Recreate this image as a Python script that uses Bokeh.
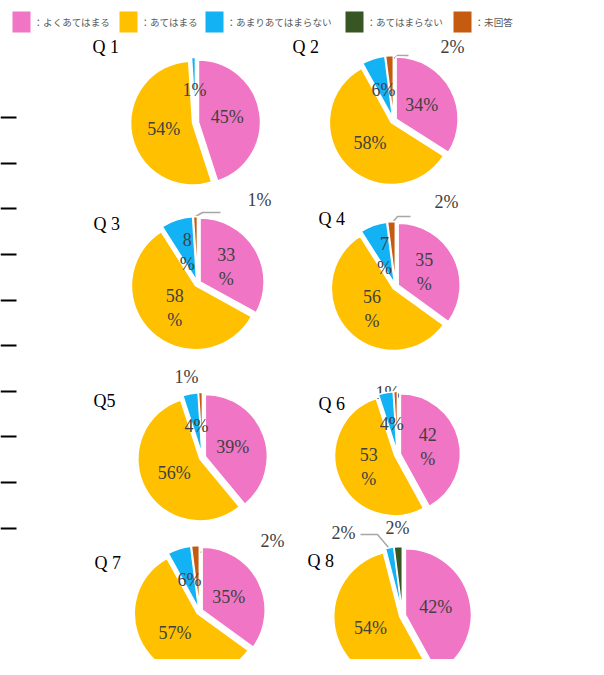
import numpy as np
from bokeh.plotting import figure
from bokeh.models import Range1d, ColumnDataSource
from bokeh.core.properties import value
from bokeh.embed import file_html
from bokeh.resources import INLINE

# ---------------- data ----------------
categories = ["よくあてはまる", "あてはまる", "あまりあてはまらない", "あてはまらない", "未回答"]
colors = ["#F075C5", "#FFC000", "#12B2F4", "#375623", "#C55A11"]
questions = ["Q 1", "Q 2", "Q 3", "Q 4", "Q5", "Q 6", "Q 7", "Q 8"]
q1 = [45, 54, 1, 0, 0]
q2 = [34, 58, 6, 0, 2]
q3 = [33, 58, 8, 0, 1]
q4 = [35, 56, 7, 0, 2]
q5 = [39, 56, 4, 0, 1]
q6 = [42, 53, 4, 0, 1]
q7 = [35, 57, 6, 0, 2]
q8 = [42, 54, 2, 2, 0]
series = [q1, q2, q3, q4, q5, q6, q7, q8]

# ---------------- layout (reference pixel coords) ----------------
W, H = 588, 659
centers = [(195, 122), (393, 120), (197, 283), (395, 286),
           (202, 457), (397, 454), (199, 611), (402, 615)]
radii = [62, 62, 64, 62, 62, 60, 63, 66]
title_pos = [(92, 46), (292, 46), (93, 223), (318, 218),
             (93, 400), (318, 403), (94, 562), (307, 560)]
wrap_min = [None, None, 0, 0, None, 10, None, None]
outside = {
    1: [(4, (452, 46), [(393, 58), (397, 55), (408, 55)])],
    2: [(4, (259, 199), [(195, 216), (202, 212), (220, 212)])],
    3: [(4, (446, 201), [(392, 222), (397, 216), (410, 216)])],
    4: [(4, (186, 376), None)],
    5: [(4, (387, 392), None)],
    6: [(4, (272, 540), [(200, 552), (207, 549), (218, 549)])],
    7: [(2, (343, 532), [(360, 534), (377, 534), (388, 547)]),
        (3, (397, 527), None)],
}
legend_x = [12, 119, 205, 345, 453]
artifact_y = [117, 163, 208, 254, 300, 345, 391, 436, 482, 528]


def X(px):
    return px


def Y(py):
    return H - py


p = figure(width=W, height=H, x_range=Range1d(0, W), y_range=Range1d(0, H),
           x_axis_type=None, y_axis_type=None, toolbar_location=None,
           output_backend="svg", min_border=0, outline_line_color=None)
p.grid.visible = False

serif = value("Liberation Serif")

# legend
for i, (lx, cat, col) in enumerate(zip(legend_x, categories, colors)):
    p.rect(x=[X(lx + 9)], y=[Y(21.5)], width=18, height=21, fill_color=col, line_color=None)
    p.text(x=[X(lx + 21)], y=[Y(21.5)], text=["：" + cat], text_font=value("Noto Sans CJK JP"),
           text_font_size="9.6px", text_color="#595959", text_baseline="middle", text_align="left")

# page artefacts: left tick marks
p.segment(x0=[X(0)] * len(artifact_y), y0=[Y(v) for v in artifact_y],
          x1=[X(16)] * len(artifact_y), y1=[Y(v) for v in artifact_y],
          line_color="black", line_width=2)

EXPLODE = 3
for qi, vals in enumerate(series):
    cx, cy = centers[qi]
    R = radii[qi]
    total = float(sum(vals))
    cum = 0.0
    wx, wy, sa, ea, fc = [], [], [], [], []
    lx, ly, lt = [], [], []
    out_cats = {o[0]: o for o in outside.get(qi, [])}
    for ci, v in enumerate(vals):
        if v <= 0:
            continue
        c0 = cum / total
        c1 = (cum + v) / total
        cum += v
        start = np.pi / 2 - 2 * np.pi * c1
        end = np.pi / 2 - 2 * np.pi * c0
        mid = (start + end) / 2
        wx.append(X(cx) + EXPLODE * np.cos(mid))
        wy.append(Y(cy) + EXPLODE * np.sin(mid))
        sa.append(start)
        ea.append(end)
        fc.append(colors[ci])
        txt = f"{v}%"
        if ci in out_cats:
            _, (tx, ty), leader = out_cats[ci]
            p.text(x=[X(tx)], y=[Y(ty)], text=[txt], text_font=serif, text_font_size="18px",
                   text_color="#404040", text_align="center", text_baseline="middle")
            if leader:
                p.line(x=[X(a) for a, b in leader], y=[Y(b) for a, b in leader],
                       line_color="#A6A6A6", line_width=1.5)
        else:
            if wrap_min[qi] is not None and v >= wrap_min[qi]:
                txt = f"{v}\n%"
            rl = 0.52 * R
            lx.append(X(cx) + rl * np.cos(mid))
            ly.append(Y(cy) + rl * np.sin(mid))
            lt.append(txt)
    src = ColumnDataSource(dict(x=wx, y=wy, sa=sa, ea=ea, fc=fc))
    p.wedge(x="x", y="y", radius=R, start_angle="sa", end_angle="ea", direction="anticlock",
            fill_color="fc", line_color="white", line_width=1.5, source=src)
    p.text(x=lx, y=ly, text=lt, text_font=serif, text_font_size="18px", text_color="#404040",
           text_align="center", text_baseline="middle", text_line_height=1.2)
    tx, ty = title_pos[qi]
    p.text(x=[X(tx)], y=[Y(ty)], text=[questions[qi]], text_font=serif, text_font_size="18px",
           text_color="black", text_align="left", text_baseline="middle")

open("out.html", "w").write(file_html(p, INLINE))
